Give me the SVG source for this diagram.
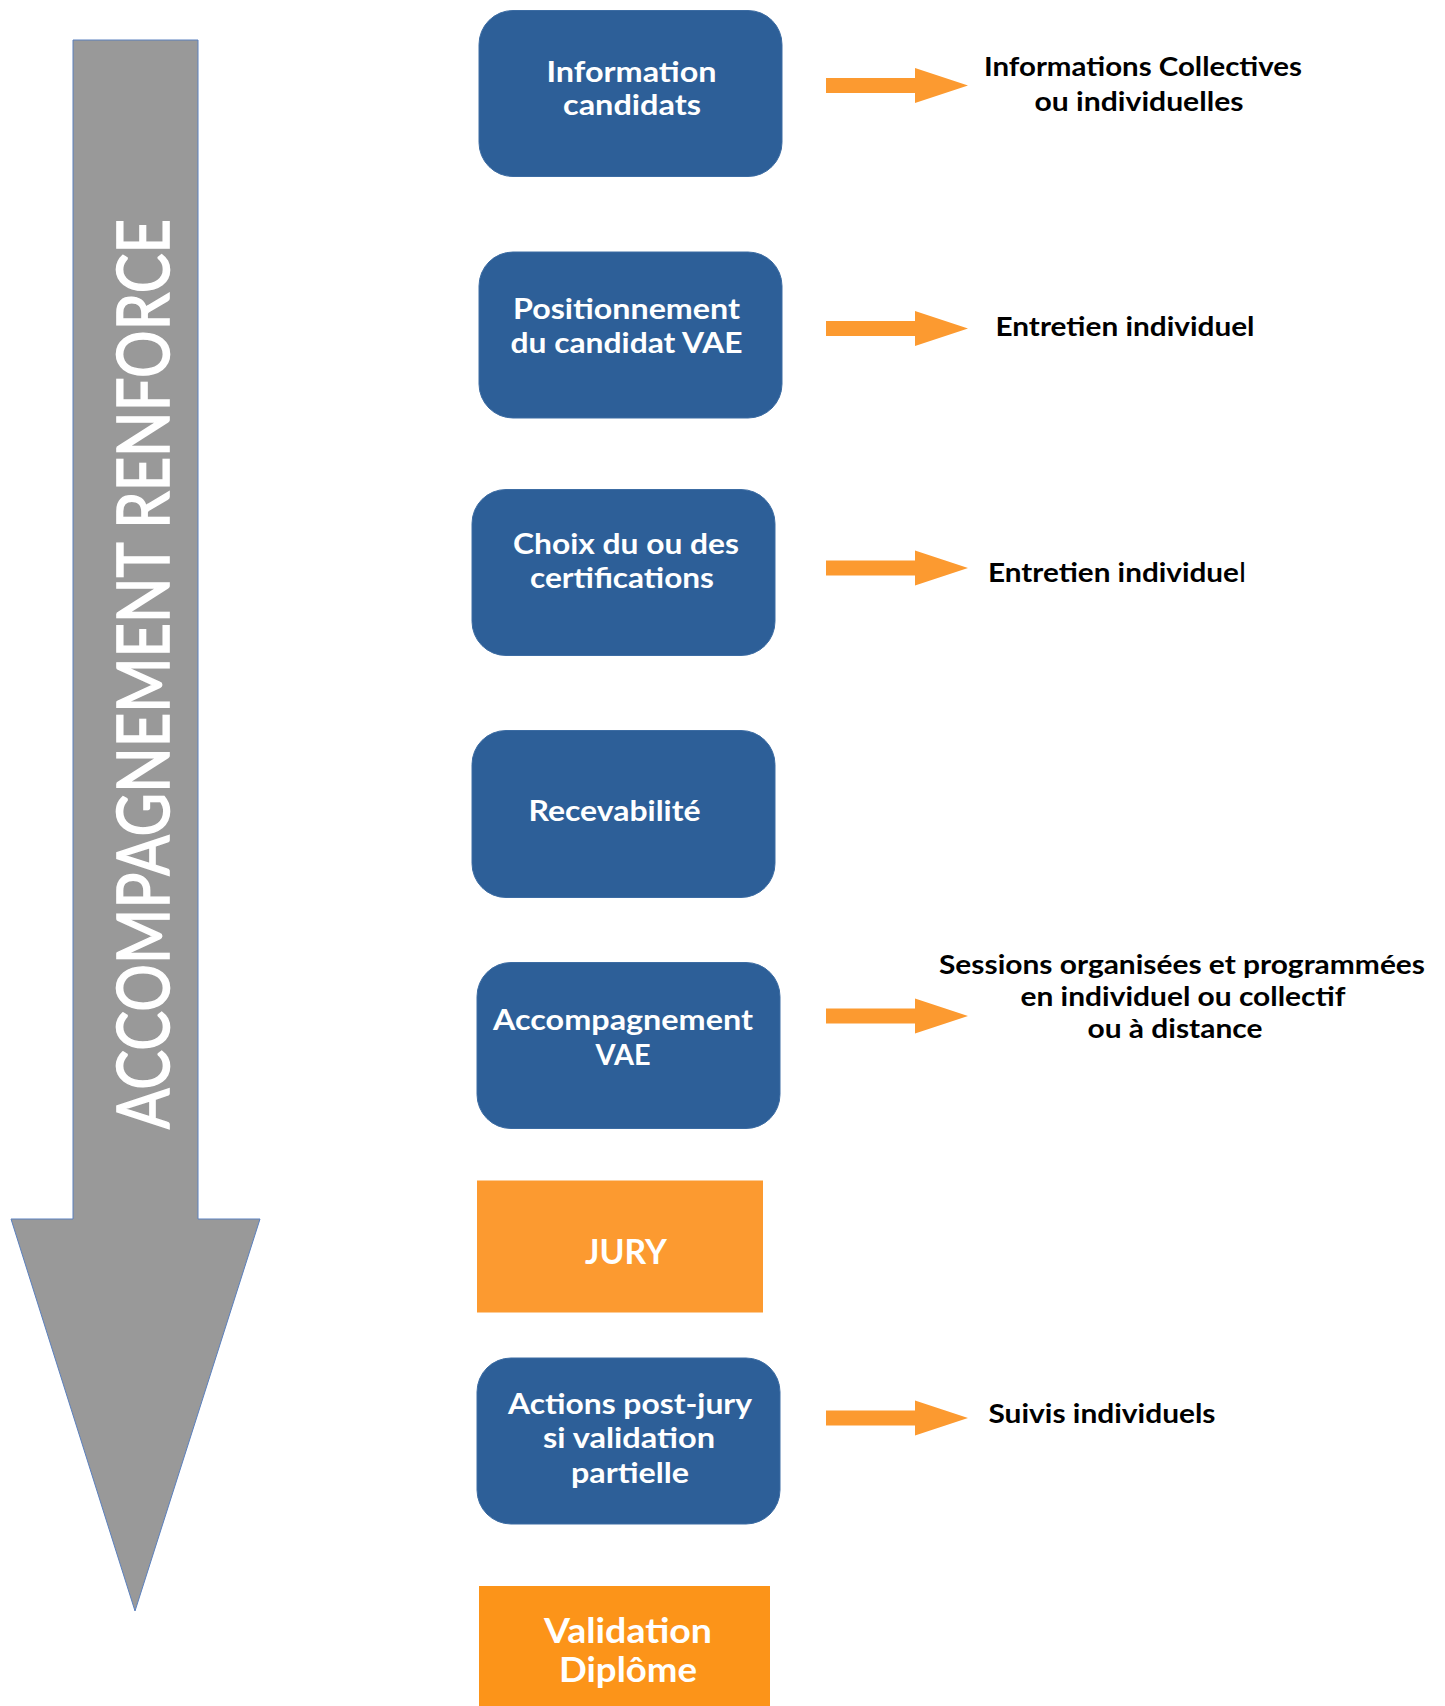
<svg xmlns="http://www.w3.org/2000/svg" width="1445" height="1706" viewBox="0 0 1445 1706">
<style>
.box{fill:#2D5F98;stroke:#3C6CA3;stroke-width:1}
.jury{fill:#FC9A30}
.valid{fill:#FC9419}
.bt{font-family:Lato,"Open Sans","Liberation Sans",sans-serif;font-weight:bold;fill:#FFFFFF;text-anchor:middle;font-size:28.6px}
.bt2{font-family:Lato,"Open Sans","Liberation Sans",sans-serif;font-weight:bold;fill:#FFFFFF;text-anchor:middle;font-size:35px}
.rt{font-family:Lato,"Open Sans","Liberation Sans",sans-serif;font-weight:bold;fill:#000000;text-anchor:middle;font-size:26.5px}
.oa{fill:#FC9A30}
.big{font-family:Lato,"Open Sans","Liberation Sans",sans-serif;fill:#FFFFFF;stroke:#FFFFFF;stroke-width:1.6;text-anchor:middle;font-size:71px}
</style>
<rect width="1445" height="1706" fill="#FFFFFF"/>
<g id="main-arrow">
<polygon points="73,40 198,40 198,1219 260,1219 135,1611 11,1219 73,1219" fill="#999999" stroke="#5B80BE" stroke-width="1"/>
<text class="big" transform="translate(168.5,674) rotate(-90)" textLength="910" lengthAdjust="spacingAndGlyphs">ACCOMPAGNEMENT RENFORCE</text>
</g>
<g id="connectors">
<polygon class="oa" points="826,78 915,78 915,68 968,85.5 915,103 915,93 826,93"/>
<polygon class="oa" points="826,321 915,321 915,311 968,328.5 915,346 915,336 826,336"/>
<polygon class="oa" points="826,560.5 915,560.5 915,550.5 968,568 915,585.5 915,575.5 826,575.5"/>
<polygon class="oa" points="826,1008.5 915,1008.5 915,998.5 968,1016 915,1033.5 915,1023.5 826,1023.5"/>
<polygon class="oa" points="826,1410.5 915,1410.5 915,1400.5 968,1418 915,1435.5 915,1425.5 826,1425.5"/>
</g>
<g id="n1">
<rect class="box" x="479" y="10.5" width="303" height="166" rx="34"/>
<text class="bt" x="631.5" y="82" textLength="170" lengthAdjust="spacingAndGlyphs">Information</text>
<text class="bt" x="632" y="115" textLength="138" lengthAdjust="spacingAndGlyphs">candidats</text>
</g>
<g id="n2">
<rect class="box" x="479" y="252" width="303" height="166" rx="34"/>
<text class="bt" x="626.5" y="319" textLength="227" lengthAdjust="spacingAndGlyphs">Positionnement</text>
<text class="bt" x="626.5" y="353" textLength="232" lengthAdjust="spacingAndGlyphs">du candidat VAE</text>
</g>
<g id="n3">
<rect class="box" x="472" y="489.5" width="303" height="166" rx="34"/>
<text class="bt" x="626" y="554" textLength="226" lengthAdjust="spacingAndGlyphs">Choix du ou des</text>
<text class="bt" x="622" y="588" textLength="184" lengthAdjust="spacingAndGlyphs">certifications</text>
</g>
<g id="n4">
<rect class="box" x="472" y="730.5" width="303" height="167" rx="34"/>
<text class="bt" x="614.5" y="821" textLength="172" lengthAdjust="spacingAndGlyphs">Recevabilité</text>
</g>
<g id="n5">
<rect class="box" x="477" y="962.5" width="303" height="166" rx="34"/>
<text class="bt" x="623" y="1030" textLength="260" lengthAdjust="spacingAndGlyphs">Accompagnement</text>
<text class="bt" x="623" y="1065" textLength="55" lengthAdjust="spacingAndGlyphs">VAE</text>
</g>
<g id="n6">
<rect class="jury" x="477" y="1180.5" width="286" height="132"/>
<text class="bt2" x="626" y="1264" textLength="82" lengthAdjust="spacingAndGlyphs">JURY</text>
</g>
<g id="n7">
<rect class="box" x="477" y="1358" width="303" height="166" rx="34"/>
<text class="bt" x="630" y="1414" textLength="244" lengthAdjust="spacingAndGlyphs">Actions post-jury</text>
<text class="bt" x="629" y="1448" textLength="172" lengthAdjust="spacingAndGlyphs">si validation</text>
<text class="bt" x="630" y="1483" textLength="118" lengthAdjust="spacingAndGlyphs">partielle</text>
</g>
<g id="n8">
<rect class="valid" x="479" y="1586" width="291" height="130"/>
<text class="bt2" x="628" y="1643" textLength="168" lengthAdjust="spacingAndGlyphs">Validation</text>
<text class="bt2" x="628" y="1682" textLength="138" lengthAdjust="spacingAndGlyphs">Diplôme</text>
</g>
<g id="t1">
<text class="rt" x="1143" y="76" textLength="318" lengthAdjust="spacingAndGlyphs">Informations Collectives</text>
<text class="rt" x="1139" y="111" textLength="209" lengthAdjust="spacingAndGlyphs">ou individuelles</text>
</g>
<g id="t2">
<text class="rt" x="1125" y="336" textLength="259" lengthAdjust="spacingAndGlyphs">Entretien individuel</text>
</g>
<g id="t3">
<text class="rt" x="1117" y="582" textLength="258" lengthAdjust="spacingAndGlyphs">Entretien individue<tspan font-weight="normal">l</tspan></text>
</g>
<g id="t5">
<text class="rt" x="1182" y="974" textLength="486" lengthAdjust="spacingAndGlyphs">Sessions organisées et programmées</text>
<text class="rt" x="1183" y="1006" textLength="325" lengthAdjust="spacingAndGlyphs">en individuel ou collectif</text>
<text class="rt" x="1175" y="1038" textLength="175" lengthAdjust="spacingAndGlyphs">ou à distance</text>
</g>
<g id="t7">
<text class="rt" x="1102" y="1423" textLength="227" lengthAdjust="spacingAndGlyphs">Suivis individuels</text>
</g>
</svg>
